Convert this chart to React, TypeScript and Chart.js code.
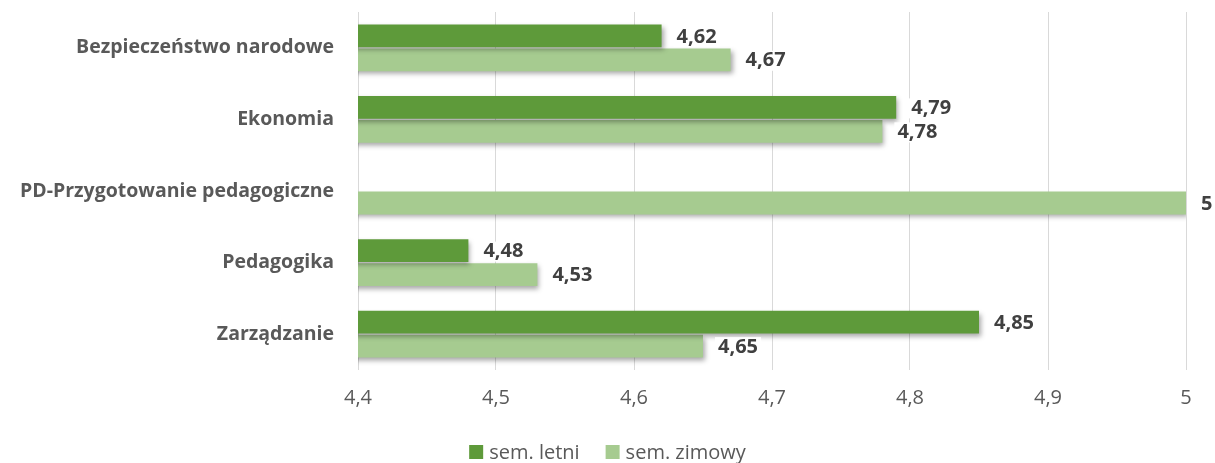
import React, { useEffect, useRef } from "react";
import { Chart, registerables } from "chart.js";

Chart.register(...registerables);

const categories = [
  "Bezpieczeństwo narodowe",
  "Ekonomia",
  "PD-Przygotowanie pedagogiczne",
  "Pedagogika",
  "Zarządzanie",
];
const semLetni: (number | null)[] = [4.62, 4.79, null, 4.48, 4.85];
const semZimowy: (number | null)[] = [4.67, 4.78, 5, 4.53, 4.65];
const seriesNames = ["sem. letni", "sem. zimowy"];
const seriesColors = ["#5e9a3a", "#a6cb90"];
const xMin = 4.4;
const xMax = 5;
const xStep = 0.1;

const FONT = "'Open Sans', 'DejaVu Sans', sans-serif";

const fmt = (v: number) => Number(v.toFixed(2)).toString().replace(".", ",");

const shadowPlugin = {
  id: "barShadow",
  beforeDatasetDraw(chart: any) {
    const ctx = chart.ctx;
    ctx.save();
    ctx.shadowColor = "rgba(0,0,0,0.35)";
    ctx.shadowBlur = 5;
    ctx.shadowOffsetX = 2;
    ctx.shadowOffsetY = 3;
  },
  afterDatasetDraw(chart: any) {
    chart.ctx.restore();
  },
};

const labelPlugin = {
  id: "valueLabels",
  afterDatasetsDraw(chart: any) {
    const ctx = chart.ctx;
    ctx.save();
    ctx.font = `bold 20px ${FONT}`;
    ctx.textBaseline = "middle";
    ctx.textAlign = "left";
    chart.data.datasets.forEach((ds: any, di: number) => {
      const meta = chart.getDatasetMeta(di);
      meta.data.forEach((bar: any, i: number) => {
        const v = ds.data[i];
        if (v === null || v === undefined) return;
        const text = fmt(v);
        const x = bar.x + 15;
        const y = bar.y + 1;
        const w = ctx.measureText(text).width;
        ctx.fillStyle = "#ffffff";
        ctx.fillRect(x - 3, y - 10, w + 6, 20);
        ctx.fillStyle = "#404040";
        ctx.fillText(text, x, y);
      });
    });
    ctx.restore();
  },
};

const legendPlugin = {
  id: "customLegend",
  afterDraw(chart: any) {
    const ctx = chart.ctx;
    ctx.save();
    ctx.font = `20px ${FONT}`;
    ctx.textBaseline = "middle";
    ctx.textAlign = "left";
    const box = 14;
    const gapBoxText = 6;
    const gapItems = 26;
    const items = chart.data.datasets.map((ds: any) => ({
      label: ds.label,
      color: ds.backgroundColor,
      w: ctx.measureText(ds.label).width,
    }));
    const total =
      items.reduce((a: number, it: any) => a + box + gapBoxText + it.w, 0) +
      gapItems * (items.length - 1);
    let x = (chart.width - total) / 2;
    const y = 452;
    items.forEach((it: any) => {
      ctx.fillStyle = it.color;
      ctx.fillRect(x, y - box / 2, box, box);
      x += box + gapBoxText;
      ctx.fillStyle = "#595959";
      ctx.fillText(it.label, x, y + 1);
      x += it.w + gapItems;
    });
    ctx.restore();
  },
};

export default function App() {
  const ref = useRef<HTMLCanvasElement | null>(null);
  useEffect(() => {
    document.body.style.margin = "0";
    if (!ref.current) return;
    const chart = new Chart(ref.current, {
      type: "bar",
      data: {
        labels: categories,
        datasets: [
          {
            label: seriesNames[0],
            data: semLetni,
            backgroundColor: seriesColors[0],
            categoryPercentage: 0.67,
            barPercentage: 0.95,
          },
          {
            label: seriesNames[1],
            data: semZimowy,
            backgroundColor: seriesColors[1],
            categoryPercentage: 0.67,
            barPercentage: 0.95,
          },
        ],
      },
      options: {
        indexAxis: "y",
        animation: false,
        responsive: false,
        maintainAspectRatio: false,
        layout: { padding: { top: 12, right: 29, bottom: 40, left: 0 } },
        scales: {
          x: {
            min: xMin,
            max: xMax,
            ticks: {
              stepSize: xStep,
              color: "#595959",
              font: { family: FONT, size: 20 },
              padding: 16,
              callback: (v: any) => fmt(Number(v)),
            },
            grid: { color: "#d9d9d9", drawTicks: false, lineWidth: 1 },
            border: { display: false },
            afterFit: (s: any) => {
              s.height = 463 - 370 - 40;
              s.paddingLeft = 0;
              s.paddingRight = 0;
            },
          },
          y: {
            ticks: {
              color: "#595959",
              font: { family: FONT, size: 19.5, weight: "bold" },
              padding: 16,
            },
            grid: { display: false },
            border: { display: false },
            afterFit: (s: any) => {
              s.width = 358;
              s.paddingTop = 0;
              s.paddingBottom = 0;
            },
          },
        },
        plugins: {
          legend: { display: false },
          tooltip: { enabled: false },
        },
      },
      plugins: [shadowPlugin, labelPlugin, legendPlugin],
    });
    return () => chart.destroy();
  }, []);
  return (
    <div style={{ width: 1215, height: 463 }}>
      <canvas ref={ref} width={1215} height={463} style={{ display: "block" }} />
    </div>
  );
}
